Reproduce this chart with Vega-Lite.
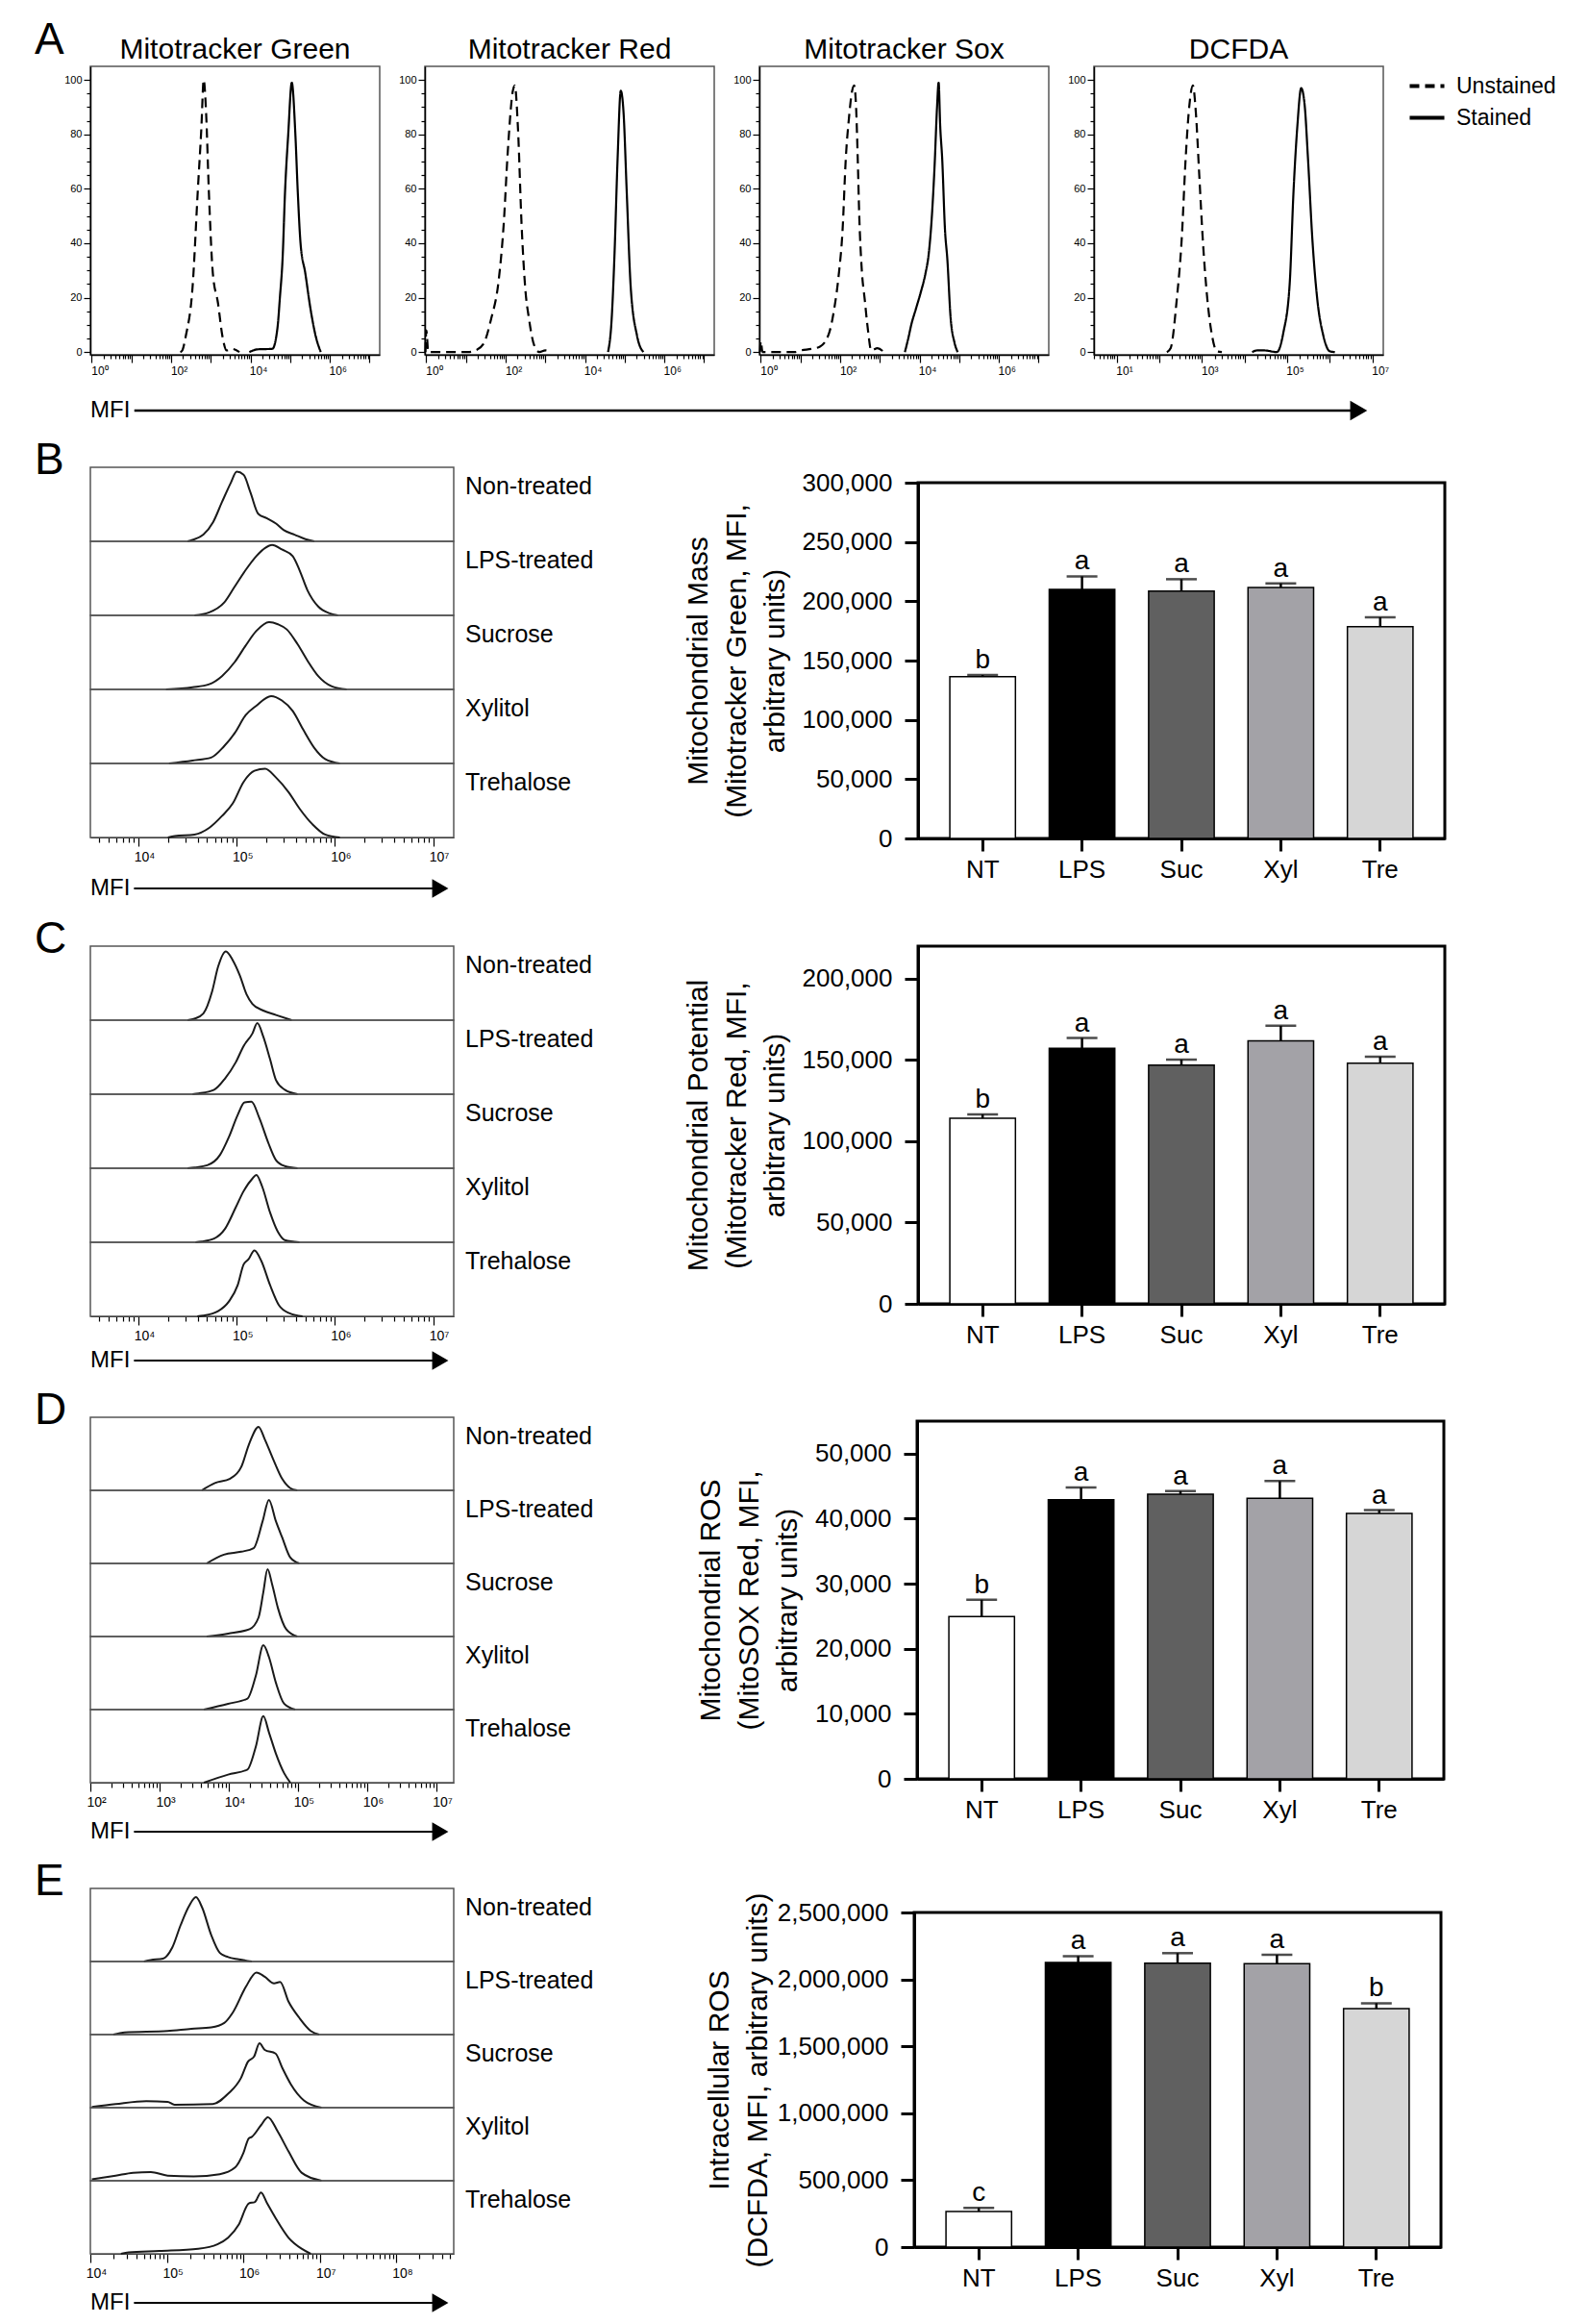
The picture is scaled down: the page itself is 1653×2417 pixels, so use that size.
{
"$schema": "https://vega.github.io/schema/vega-lite/v6.json",
"background": "white",
"padding": {"left": 36, "top": 19, "right": 10, "bottom": 4},
"config": {
  "font": "Liberation Sans",
  "view": {"stroke": "#555", "strokeWidth": 1.5},
  "axis": {"grid": false, "domainColor": "black", "tickColor": "black", "labelColor": "black", "titleColor": "black"},
  "axisY": {"labelFontSize": 26, "labelPadding": 13, "tickSize": 14, "tickWidth": 3, "domainWidth": 3, "titleFontSize": 30, "titleFontWeight": "normal", "titleLineHeight": 40, "titlePadding": 13}
},
"datasets": {
"histA": [
{"plot":"Mitotracker Green","stain":"Unstained","mfi":170,"count":0},
{"plot":"Mitotracker Green","stain":"Unstained","mfi":190.5,"count":0.6},
{"plot":"Mitotracker Green","stain":"Unstained","mfi":234.4,"count":6},
{"plot":"Mitotracker Green","stain":"Unstained","mfi":346.7,"count":24},
{"plot":"Mitotracker Green","stain":"Unstained","mfi":467.7,"count":59},
{"plot":"Mitotracker Green","stain":"Unstained","mfi":575.4,"count":82},
{"plot":"Mitotracker Green","stain":"Unstained","mfi":660.7,"count":100},
{"plot":"Mitotracker Green","stain":"Unstained","mfi":758.6,"count":88},
{"plot":"Mitotracker Green","stain":"Unstained","mfi":891.3,"count":59},
{"plot":"Mitotracker Green","stain":"Unstained","mfi":1122,"count":29},
{"plot":"Mitotracker Green","stain":"Unstained","mfi":1514,"count":18},
{"plot":"Mitotracker Green","stain":"Unstained","mfi":1950,"count":6},
{"plot":"Mitotracker Green","stain":"Unstained","mfi":2512,"count":0.6},
{"plot":"Mitotracker Green","stain":"Unstained","mfi":3388,"count":1.2},
{"plot":"Mitotracker Green","stain":"Unstained","mfi":5248,"count":0},
{"plot":"Mitotracker Green","stain":"Stained","mfi":9333,"count":0},
{"plot":"Mitotracker Green","stain":"Stained","mfi":14790,"count":1},
{"plot":"Mitotracker Green","stain":"Stained","mfi":35480,"count":1.2},
{"plot":"Mitotracker Green","stain":"Stained","mfi":47860,"count":9},
{"plot":"Mitotracker Green","stain":"Stained","mfi":54950,"count":20},
{"plot":"Mitotracker Green","stain":"Stained","mfi":64570,"count":35},
{"plot":"Mitotracker Green","stain":"Stained","mfi":74130,"count":59},
{"plot":"Mitotracker Green","stain":"Stained","mfi":89130,"count":80},
{"plot":"Mitotracker Green","stain":"Stained","mfi":109600,"count":99},
{"plot":"Mitotracker Green","stain":"Stained","mfi":134900,"count":80},
{"plot":"Mitotracker Green","stain":"Stained","mfi":154900,"count":59},
{"plot":"Mitotracker Green","stain":"Stained","mfi":182000,"count":40},
{"plot":"Mitotracker Green","stain":"Stained","mfi":239900,"count":29},
{"plot":"Mitotracker Green","stain":"Stained","mfi":323600,"count":16},
{"plot":"Mitotracker Green","stain":"Stained","mfi":436500,"count":6},
{"plot":"Mitotracker Green","stain":"Stained","mfi":588800,"count":0},
{"plot":"Mitotracker Red","stain":"Unstained","mfi":0.95,"count":0},
{"plot":"Mitotracker Red","stain":"Unstained","mfi":1,"count":8},
{"plot":"Mitotracker Red","stain":"Unstained","mfi":1.12,"count":0},
{"plot":"Mitotracker Red","stain":"Unstained","mfi":11.22,"count":0},
{"plot":"Mitotracker Red","stain":"Unstained","mfi":17.38,"count":0.6},
{"plot":"Mitotracker Red","stain":"Unstained","mfi":27.54,"count":3},
{"plot":"Mitotracker Red","stain":"Unstained","mfi":42.66,"count":12},
{"plot":"Mitotracker Red","stain":"Unstained","mfi":66.07,"count":26},
{"plot":"Mitotracker Red","stain":"Unstained","mfi":89.13,"count":47},
{"plot":"Mitotracker Red","stain":"Unstained","mfi":112.2,"count":73},
{"plot":"Mitotracker Red","stain":"Unstained","mfi":151.4,"count":96},
{"plot":"Mitotracker Red","stain":"Unstained","mfi":169.8,"count":98},
{"plot":"Mitotracker Red","stain":"Unstained","mfi":204.2,"count":82},
{"plot":"Mitotracker Red","stain":"Unstained","mfi":251.2,"count":47},
{"plot":"Mitotracker Red","stain":"Unstained","mfi":309,"count":24},
{"plot":"Mitotracker Red","stain":"Unstained","mfi":389,"count":12},
{"plot":"Mitotracker Red","stain":"Unstained","mfi":524.8,"count":2.4},
{"plot":"Mitotracker Red","stain":"Unstained","mfi":707.9,"count":0},
{"plot":"Mitotracker Red","stain":"Unstained","mfi":1000,"count":0.6},
{"plot":"Mitotracker Red","stain":"Unstained","mfi":1259,"count":0},
{"plot":"Mitotracker Red","stain":"Stained","mfi":38020,"count":0},
{"plot":"Mitotracker Red","stain":"Stained","mfi":46770,"count":12},
{"plot":"Mitotracker Red","stain":"Stained","mfi":54950,"count":35},
{"plot":"Mitotracker Red","stain":"Stained","mfi":66070,"count":71},
{"plot":"Mitotracker Red","stain":"Stained","mfi":79430,"count":96},
{"plot":"Mitotracker Red","stain":"Stained","mfi":93330,"count":88},
{"plot":"Mitotracker Red","stain":"Stained","mfi":112200,"count":59},
{"plot":"Mitotracker Red","stain":"Stained","mfi":141300,"count":24},
{"plot":"Mitotracker Red","stain":"Stained","mfi":204200,"count":6},
{"plot":"Mitotracker Red","stain":"Stained","mfi":295100,"count":0},
{"plot":"Mitotracker Sox","stain":"Unstained","mfi":0.95,"count":0},
{"plot":"Mitotracker Sox","stain":"Unstained","mfi":1,"count":4},
{"plot":"Mitotracker Sox","stain":"Unstained","mfi":1.1,"count":0},
{"plot":"Mitotracker Sox","stain":"Unstained","mfi":7.079,"count":0},
{"plot":"Mitotracker Sox","stain":"Unstained","mfi":10.23,"count":0.6},
{"plot":"Mitotracker Sox","stain":"Unstained","mfi":19.5,"count":1.2},
{"plot":"Mitotracker Sox","stain":"Unstained","mfi":30.9,"count":2},
{"plot":"Mitotracker Sox","stain":"Unstained","mfi":52.48,"count":7},
{"plot":"Mitotracker Sox","stain":"Unstained","mfi":70.79,"count":16},
{"plot":"Mitotracker Sox","stain":"Unstained","mfi":91.2,"count":28},
{"plot":"Mitotracker Sox","stain":"Unstained","mfi":114.8,"count":45},
{"plot":"Mitotracker Sox","stain":"Unstained","mfi":138,"count":71},
{"plot":"Mitotracker Sox","stain":"Unstained","mfi":166,"count":86},
{"plot":"Mitotracker Sox","stain":"Unstained","mfi":199.5,"count":96},
{"plot":"Mitotracker Sox","stain":"Unstained","mfi":223.9,"count":98},
{"plot":"Mitotracker Sox","stain":"Unstained","mfi":251.2,"count":90},
{"plot":"Mitotracker Sox","stain":"Unstained","mfi":275.4,"count":72},
{"plot":"Mitotracker Sox","stain":"Unstained","mfi":302,"count":50},
{"plot":"Mitotracker Sox","stain":"Unstained","mfi":346.7,"count":31},
{"plot":"Mitotracker Sox","stain":"Unstained","mfi":416.9,"count":19},
{"plot":"Mitotracker Sox","stain":"Unstained","mfi":501.2,"count":8},
{"plot":"Mitotracker Sox","stain":"Unstained","mfi":602.6,"count":0.6},
{"plot":"Mitotracker Sox","stain":"Unstained","mfi":871,"count":1.4},
{"plot":"Mitotracker Sox","stain":"Unstained","mfi":1259,"count":0},
{"plot":"Mitotracker Sox","stain":"Stained","mfi":4266,"count":0},
{"plot":"Mitotracker Sox","stain":"Stained","mfi":5129,"count":4.7},
{"plot":"Mitotracker Sox","stain":"Stained","mfi":6166,"count":10},
{"plot":"Mitotracker Sox","stain":"Stained","mfi":8128,"count":16},
{"plot":"Mitotracker Sox","stain":"Stained","mfi":10720,"count":22},
{"plot":"Mitotracker Sox","stain":"Stained","mfi":14130,"count":29},
{"plot":"Mitotracker Sox","stain":"Stained","mfi":16980,"count":36},
{"plot":"Mitotracker Sox","stain":"Stained","mfi":20420,"count":50},
{"plot":"Mitotracker Sox","stain":"Stained","mfi":23990,"count":69},
{"plot":"Mitotracker Sox","stain":"Stained","mfi":27540,"count":90},
{"plot":"Mitotracker Sox","stain":"Stained","mfi":30200,"count":99},
{"plot":"Mitotracker Sox","stain":"Stained","mfi":33110,"count":83},
{"plot":"Mitotracker Sox","stain":"Stained","mfi":37150,"count":71},
{"plot":"Mitotracker Sox","stain":"Stained","mfi":43650,"count":45},
{"plot":"Mitotracker Sox","stain":"Stained","mfi":50120,"count":34},
{"plot":"Mitotracker Sox","stain":"Stained","mfi":60260,"count":13},
{"plot":"Mitotracker Sox","stain":"Stained","mfi":75860,"count":3.5},
{"plot":"Mitotracker Sox","stain":"Stained","mfi":91200,"count":0},
{"plot":"DCFDA","stain":"Unstained","mfi":151.4,"count":0},
{"plot":"DCFDA","stain":"Unstained","mfi":186.2,"count":1.5},
{"plot":"DCFDA","stain":"Unstained","mfi":257,"count":19},
{"plot":"DCFDA","stain":"Unstained","mfi":338.8,"count":42},
{"plot":"DCFDA","stain":"Unstained","mfi":416.9,"count":71},
{"plot":"DCFDA","stain":"Unstained","mfi":512.9,"count":91},
{"plot":"DCFDA","stain":"Unstained","mfi":616.6,"count":98},
{"plot":"DCFDA","stain":"Unstained","mfi":724.4,"count":88},
{"plot":"DCFDA","stain":"Unstained","mfi":871,"count":65},
{"plot":"DCFDA","stain":"Unstained","mfi":1047,"count":42},
{"plot":"DCFDA","stain":"Unstained","mfi":1318,"count":21},
{"plot":"DCFDA","stain":"Unstained","mfi":1738,"count":6},
{"plot":"DCFDA","stain":"Unstained","mfi":2239,"count":0.3},
{"plot":"DCFDA","stain":"Unstained","mfi":2951,"count":0},
{"plot":"DCFDA","stain":"Stained","mfi":15140,"count":0},
{"plot":"DCFDA","stain":"Stained","mfi":19500,"count":0.6},
{"plot":"DCFDA","stain":"Stained","mfi":29510,"count":0.6},
{"plot":"DCFDA","stain":"Stained","mfi":57540,"count":0},
{"plot":"DCFDA","stain":"Stained","mfi":81280,"count":7},
{"plot":"DCFDA","stain":"Stained","mfi":114800,"count":25},
{"plot":"DCFDA","stain":"Stained","mfi":141300,"count":59},
{"plot":"DCFDA","stain":"Stained","mfi":173800,"count":83},
{"plot":"DCFDA","stain":"Stained","mfi":213800,"count":97},
{"plot":"DCFDA","stain":"Stained","mfi":257000,"count":91},
{"plot":"DCFDA","stain":"Stained","mfi":309000,"count":71},
{"plot":"DCFDA","stain":"Stained","mfi":389000,"count":42},
{"plot":"DCFDA","stain":"Stained","mfi":512900,"count":19},
{"plot":"DCFDA","stain":"Stained","mfi":707900,"count":6},
{"plot":"DCFDA","stain":"Stained","mfi":1000000,"count":0.3},
{"plot":"DCFDA","stain":"Stained","mfi":1318000,"count":0}
],
"histB": [
{"sample":"Non-treated","mfi":31620,"count":0},{"sample":"Non-treated","mfi":35480,"count":2},{"sample":"Non-treated","mfi":45710,"count":9},{"sample":"Non-treated","mfi":57540,"count":26},{"sample":"Non-treated","mfi":70790,"count":53},{"sample":"Non-treated","mfi":87100,"count":79},{"sample":"Non-treated","mfi":100000,"count":94},{"sample":"Non-treated","mfi":117500,"count":90},{"sample":"Non-treated","mfi":138000,"count":66},{"sample":"Non-treated","mfi":166000,"count":37},{"sample":"Non-treated","mfi":204200,"count":31},{"sample":"Non-treated","mfi":251200,"count":24},{"sample":"Non-treated","mfi":302000,"count":15},{"sample":"Non-treated","mfi":389000,"count":9},{"sample":"Non-treated","mfi":501200,"count":3},{"sample":"Non-treated","mfi":616600,"count":0},
{"sample":"LPS-treated","mfi":37150,"count":0},{"sample":"LPS-treated","mfi":52480,"count":4},{"sample":"LPS-treated","mfi":74130,"count":17},{"sample":"LPS-treated","mfi":95500,"count":39},{"sample":"LPS-treated","mfi":123000,"count":61},{"sample":"LPS-treated","mfi":158500,"count":80},{"sample":"LPS-treated","mfi":195000,"count":91},{"sample":"LPS-treated","mfi":229100,"count":95},{"sample":"LPS-treated","mfi":288400,"count":89},{"sample":"LPS-treated","mfi":371500,"count":80},{"sample":"LPS-treated","mfi":436500,"count":61},{"sample":"LPS-treated","mfi":524800,"count":34},{"sample":"LPS-treated","mfi":676100,"count":12},{"sample":"LPS-treated","mfi":871000,"count":3},{"sample":"LPS-treated","mfi":1072000,"count":0},
{"sample":"Sucrose","mfi":19050,"count":0},{"sample":"Sucrose","mfi":35480,"count":3},{"sample":"Sucrose","mfi":52480,"count":7},{"sample":"Sucrose","mfi":70790,"count":18},{"sample":"Sucrose","mfi":95500,"count":37},{"sample":"Sucrose","mfi":123000,"count":59},{"sample":"Sucrose","mfi":158500,"count":79},{"sample":"Sucrose","mfi":213800,"count":91},{"sample":"Sucrose","mfi":263000,"count":88},{"sample":"Sucrose","mfi":323600,"count":81},{"sample":"Sucrose","mfi":416900,"count":61},{"sample":"Sucrose","mfi":524800,"count":39},{"sample":"Sucrose","mfi":676100,"count":18},{"sample":"Sucrose","mfi":933300,"count":4},{"sample":"Sucrose","mfi":1318000,"count":0},
{"sample":"Xylitol","mfi":20420,"count":0},{"sample":"Xylitol","mfi":35480,"count":4},{"sample":"Xylitol","mfi":54950,"count":8},{"sample":"Xylitol","mfi":74130,"count":23},{"sample":"Xylitol","mfi":95500,"count":41},{"sample":"Xylitol","mfi":123000,"count":65},{"sample":"Xylitol","mfi":158500,"count":78},{"sample":"Xylitol","mfi":223900,"count":91},{"sample":"Xylitol","mfi":288400,"count":85},{"sample":"Xylitol","mfi":371500,"count":71},{"sample":"Xylitol","mfi":478600,"count":45},{"sample":"Xylitol","mfi":616600,"count":21},{"sample":"Xylitol","mfi":794300,"count":6},{"sample":"Xylitol","mfi":1122000,"count":0},
{"sample":"Trehalose","mfi":19950,"count":0},{"sample":"Trehalose","mfi":23440,"count":2},{"sample":"Trehalose","mfi":37150,"count":4},{"sample":"Trehalose","mfi":52480,"count":13},{"sample":"Trehalose","mfi":70790,"count":29},{"sample":"Trehalose","mfi":91200,"count":46},{"sample":"Trehalose","mfi":117500,"count":75},{"sample":"Trehalose","mfi":151400,"count":90},{"sample":"Trehalose","mfi":195000,"count":93},{"sample":"Trehalose","mfi":251200,"count":81},{"sample":"Trehalose","mfi":338800,"count":61},{"sample":"Trehalose","mfi":436500,"count":39},{"sample":"Trehalose","mfi":588800,"count":18},{"sample":"Trehalose","mfi":794300,"count":4},{"sample":"Trehalose","mfi":1122000,"count":0}
],
"histC": [
{"sample":"Non-treated","mfi":31620,"count":0},{"sample":"Non-treated","mfi":37150,"count":2},{"sample":"Non-treated","mfi":45710,"count":9},{"sample":"Non-treated","mfi":56230,"count":39},{"sample":"Non-treated","mfi":64570,"count":72},{"sample":"Non-treated","mfi":77620,"count":93},{"sample":"Non-treated","mfi":91200,"count":81},{"sample":"Non-treated","mfi":107200,"count":61},{"sample":"Non-treated","mfi":125900,"count":35},{"sample":"Non-treated","mfi":144500,"count":22},{"sample":"Non-treated","mfi":186200,"count":13},{"sample":"Non-treated","mfi":251200,"count":7},{"sample":"Non-treated","mfi":363100,"count":0},
{"sample":"LPS-treated","mfi":35480,"count":0},{"sample":"LPS-treated","mfi":40740,"count":1},{"sample":"LPS-treated","mfi":58880,"count":6},{"sample":"LPS-treated","mfi":75860,"count":21},{"sample":"LPS-treated","mfi":97720,"count":43},{"sample":"LPS-treated","mfi":117500,"count":65},{"sample":"LPS-treated","mfi":144500,"count":82},{"sample":"LPS-treated","mfi":162200,"count":96},{"sample":"LPS-treated","mfi":186200,"count":78},{"sample":"LPS-treated","mfi":218800,"count":47},{"sample":"LPS-treated","mfi":251200,"count":19},{"sample":"LPS-treated","mfi":309000,"count":6},{"sample":"LPS-treated","mfi":416900,"count":0},
{"sample":"Sucrose","mfi":31620,"count":0},{"sample":"Sucrose","mfi":37150,"count":1},{"sample":"Sucrose","mfi":50120,"count":4},{"sample":"Sucrose","mfi":67610,"count":18},{"sample":"Sucrose","mfi":83180,"count":42},{"sample":"Sucrose","mfi":102300,"count":72},{"sample":"Sucrose","mfi":120200,"count":89},{"sample":"Sucrose","mfi":141300,"count":90},{"sample":"Sucrose","mfi":169800,"count":68},{"sample":"Sucrose","mfi":208900,"count":35},{"sample":"Sucrose","mfi":251200,"count":11},{"sample":"Sucrose","mfi":309000,"count":3},{"sample":"Sucrose","mfi":416900,"count":0},
{"sample":"Xylitol","mfi":38020,"count":0},{"sample":"Xylitol","mfi":43650,"count":1},{"sample":"Xylitol","mfi":58880,"count":5},{"sample":"Xylitol","mfi":75860,"count":18},{"sample":"Xylitol","mfi":97720,"count":47},{"sample":"Xylitol","mfi":117500,"count":69},{"sample":"Xylitol","mfi":144500,"count":86},{"sample":"Xylitol","mfi":158500,"count":91},{"sample":"Xylitol","mfi":182000,"count":75},{"sample":"Xylitol","mfi":218800,"count":40},{"sample":"Xylitol","mfi":263000,"count":14},{"sample":"Xylitol","mfi":309000,"count":3},{"sample":"Xylitol","mfi":436500,"count":0},
{"sample":"Trehalose","mfi":39810,"count":0},{"sample":"Trehalose","mfi":45710,"count":1},{"sample":"Trehalose","mfi":64570,"count":7},{"sample":"Trehalose","mfi":83180,"count":20},{"sample":"Trehalose","mfi":102300,"count":42},{"sample":"Trehalose","mfi":117500,"count":70},{"sample":"Trehalose","mfi":131800,"count":77},{"sample":"Trehalose","mfi":151400,"count":89},{"sample":"Trehalose","mfi":177800,"count":75},{"sample":"Trehalose","mfi":218800,"count":42},{"sample":"Trehalose","mfi":269200,"count":15},{"sample":"Trehalose","mfi":346700,"count":4},{"sample":"Trehalose","mfi":467700,"count":0}
],
"histD": [
{"sample":"Non-treated","mfi":4074,"count":0},{"sample":"Non-treated","mfi":6310,"count":10},{"sample":"Non-treated","mfi":10470,"count":16},{"sample":"Non-treated","mfi":15140,"count":32},{"sample":"Non-treated","mfi":19950,"count":65},{"sample":"Non-treated","mfi":26920,"count":87},{"sample":"Non-treated","mfi":33110,"count":70},{"sample":"Non-treated","mfi":43650,"count":43},{"sample":"Non-treated","mfi":58880,"count":16},{"sample":"Non-treated","mfi":77620,"count":3},{"sample":"Non-treated","mfi":97720,"count":0},
{"sample":"LPS-treated","mfi":4786,"count":0},{"sample":"LPS-treated","mfi":8511,"count":12},{"sample":"LPS-treated","mfi":15140,"count":16},{"sample":"LPS-treated","mfi":22910,"count":21},{"sample":"LPS-treated","mfi":30900,"count":58},{"sample":"LPS-treated","mfi":38020,"count":87},{"sample":"LPS-treated","mfi":47860,"count":58},{"sample":"LPS-treated","mfi":58880,"count":36},{"sample":"LPS-treated","mfi":77620,"count":8},{"sample":"LPS-treated","mfi":104700,"count":0},
{"sample":"Sucrose","mfi":4786,"count":0},{"sample":"Sucrose","mfi":9772,"count":4},{"sample":"Sucrose","mfi":19950,"count":10},{"sample":"Sucrose","mfi":26920,"count":26},{"sample":"Sucrose","mfi":31620,"count":61},{"sample":"Sucrose","mfi":36310,"count":92},{"sample":"Sucrose","mfi":42660,"count":70},{"sample":"Sucrose","mfi":51290,"count":39},{"sample":"Sucrose","mfi":67610,"count":10},{"sample":"Sucrose","mfi":97720,"count":0},
{"sample":"Xylitol","mfi":4365,"count":0},{"sample":"Xylitol","mfi":9772,"count":8},{"sample":"Xylitol","mfi":18620,"count":15},{"sample":"Xylitol","mfi":24550,"count":46},{"sample":"Xylitol","mfi":31620,"count":88},{"sample":"Xylitol","mfi":38020,"count":72},{"sample":"Xylitol","mfi":47860,"count":37},{"sample":"Xylitol","mfi":63100,"count":8},{"sample":"Xylitol","mfi":91200,"count":0},
{"sample":"Trehalose","mfi":4365,"count":0},{"sample":"Trehalose","mfi":9772,"count":11},{"sample":"Trehalose","mfi":18620,"count":18},{"sample":"Trehalose","mfi":24550,"count":49},{"sample":"Trehalose","mfi":31620,"count":91},{"sample":"Trehalose","mfi":38020,"count":69},{"sample":"Trehalose","mfi":47860,"count":40},{"sample":"Trehalose","mfi":63100,"count":13},{"sample":"Trehalose","mfi":77620,"count":0}
],
"histE": [
{"sample":"Non-treated","mfi":50120,"count":0},{"sample":"Non-treated","mfi":61660,"count":2},{"sample":"Non-treated","mfi":89130,"count":4},{"sample":"Non-treated","mfi":117500,"count":19},{"sample":"Non-treated","mfi":151400,"count":50},{"sample":"Non-treated","mfi":195000,"count":76},{"sample":"Non-treated","mfi":239900,"count":88},{"sample":"Non-treated","mfi":288400,"count":74},{"sample":"Non-treated","mfi":380200,"count":36},{"sample":"Non-treated","mfi":489800,"count":12},{"sample":"Non-treated","mfi":631000,"count":6},{"sample":"Non-treated","mfi":871000,"count":3},{"sample":"Non-treated","mfi":1288000,"count":0},
{"sample":"LPS-treated","mfi":19950,"count":0},{"sample":"LPS-treated","mfi":28180,"count":3},{"sample":"LPS-treated","mfi":102300,"count":5},{"sample":"LPS-treated","mfi":208900,"count":8},{"sample":"LPS-treated","mfi":380200,"count":10},{"sample":"LPS-treated","mfi":562300,"count":16},{"sample":"LPS-treated","mfi":724400,"count":30},{"sample":"LPS-treated","mfi":1072000,"count":65},{"sample":"LPS-treated","mfi":1479000,"count":85},{"sample":"LPS-treated","mfi":1905000,"count":79},{"sample":"LPS-treated","mfi":2512000,"count":70},{"sample":"LPS-treated","mfi":3020000,"count":72},{"sample":"LPS-treated","mfi":3890000,"count":45},{"sample":"LPS-treated","mfi":5370000,"count":23},{"sample":"LPS-treated","mfi":7586000,"count":5},{"sample":"LPS-treated","mfi":9772000,"count":0},
{"sample":"Sucrose","mfi":10470,"count":1},{"sample":"Sucrose","mfi":21380,"count":5},{"sample":"Sucrose","mfi":53700,"count":9},{"sample":"Sucrose","mfi":102300,"count":8},{"sample":"Sucrose","mfi":125900,"count":4},{"sample":"Sucrose","mfi":398100,"count":5},{"sample":"Sucrose","mfi":631000,"count":19},{"sample":"Sucrose","mfi":933300,"count":41},{"sample":"Sucrose","mfi":1148000,"count":63},{"sample":"Sucrose","mfi":1380000,"count":70},{"sample":"Sucrose","mfi":1622000,"count":88},{"sample":"Sucrose","mfi":1905000,"count":79},{"sample":"Sucrose","mfi":2630000,"count":74},{"sample":"Sucrose","mfi":3236000,"count":54},{"sample":"Sucrose","mfi":4169000,"count":32},{"sample":"Sucrose","mfi":6166000,"count":10},{"sample":"Sucrose","mfi":10470000,"count":0},
{"sample":"Xylitol","mfi":10470,"count":2},{"sample":"Xylitol","mfi":21380,"count":7},{"sample":"Xylitol","mfi":36310,"count":11},{"sample":"Xylitol","mfi":61660,"count":12},{"sample":"Xylitol","mfi":102300,"count":7},{"sample":"Xylitol","mfi":223900,"count":6},{"sample":"Xylitol","mfi":489800,"count":9},{"sample":"Xylitol","mfi":776200,"count":18},{"sample":"Xylitol","mfi":1000000,"count":38},{"sample":"Xylitol","mfi":1175000,"count":58},{"sample":"Xylitol","mfi":1288000,"count":60},{"sample":"Xylitol","mfi":1698000,"count":76},{"sample":"Xylitol","mfi":2089000,"count":87},{"sample":"Xylitol","mfi":2818000,"count":67},{"sample":"Xylitol","mfi":3890000,"count":40},{"sample":"Xylitol","mfi":5754000,"count":11},{"sample":"Xylitol","mfi":10470000,"count":0},
{"sample":"Trehalose","mfi":25120,"count":0},{"sample":"Trehalose","mfi":31620,"count":2},{"sample":"Trehalose","mfi":79430,"count":4},{"sample":"Trehalose","mfi":257000,"count":7},{"sample":"Trehalose","mfi":457100,"count":13},{"sample":"Trehalose","mfi":631000,"count":22},{"sample":"Trehalose","mfi":871000,"count":40},{"sample":"Trehalose","mfi":1175000,"count":69},{"sample":"Trehalose","mfi":1413000,"count":71},{"sample":"Trehalose","mfi":1698000,"count":84},{"sample":"Trehalose","mfi":2042000,"count":69},{"sample":"Trehalose","mfi":2630000,"count":49},{"sample":"Trehalose","mfi":3890000,"count":22},{"sample":"Trehalose","mfi":5754000,"count":7},{"sample":"Trehalose","mfi":7586000,"count":0}
],
"bars": [
{"panel":"B","treatment":"NT","mean":136500,"upper":137800,"letter":"b"},
{"panel":"B","treatment":"LPS","mean":210000,"upper":221000,"letter":"a"},
{"panel":"B","treatment":"Suc","mean":208600,"upper":218600,"letter":"a"},
{"panel":"B","treatment":"Xyl","mean":211600,"upper":215100,"letter":"a"},
{"panel":"B","treatment":"Tre","mean":178600,"upper":186500,"letter":"a"},
{"panel":"C","treatment":"NT","mean":114100,"upper":116500,"letter":"b"},
{"panel":"C","treatment":"LPS","mean":157100,"upper":163500,"letter":"a"},
{"panel":"C","treatment":"Suc","mean":146800,"upper":150200,"letter":"a"},
{"panel":"C","treatment":"Xyl","mean":161700,"upper":171000,"letter":"a"},
{"panel":"C","treatment":"Tre","mean":148000,"upper":152000,"letter":"a"},
{"panel":"D","treatment":"NT","mean":24950,"upper":27530,"letter":"b"},
{"panel":"D","treatment":"LPS","mean":42900,"upper":44790,"letter":"a"},
{"panel":"D","treatment":"Suc","mean":43750,"upper":44250,"letter":"a"},
{"panel":"D","treatment":"Xyl","mean":43150,"upper":45780,"letter":"a"},
{"panel":"D","treatment":"Tre","mean":40820,"upper":41320,"letter":"a"},
{"panel":"E","treatment":"NT","mean":266000,"upper":292000,"letter":"c"},
{"panel":"E","treatment":"LPS","mean":2126000,"upper":2174000,"letter":"a"},
{"panel":"E","treatment":"Suc","mean":2121000,"upper":2196000,"letter":"a"},
{"panel":"E","treatment":"Xyl","mean":2117000,"upper":2184000,"letter":"a"},
{"panel":"E","treatment":"Tre","mean":1781000,"upper":1822000,"letter":"b"}
]
},
"vconcat": [
{
 "title": {"text": "A", "anchor": "start", "frame": "group", "fontSize": 46, "fontWeight": "normal", "dx": -58, "dy": 30, "offset": 0, "color": "black"},
 "hconcat": [
  {"width": 301, "height": 300, "data": {"name": "histA"}, "transform": [{"filter": "datum.plot == 'Mitotracker Green'"}],
   "title": {"text": "Mitotracker Green", "fontSize": 30, "fontWeight": "normal", "offset": 2, "color": "black"},
   "mark": {"type": "line", "interpolate": "monotone", "strokeWidth": 2.2, "color": "black"},
   "encoding": {
    "x": {"field": "mfi", "type": "quantitative", "scale": {"type": "log", "domain": [0.92, 18000000], "nice": false},
     "axis": {"title": null, "values": [1,2,3,4,5,6,7,8,9,10,20,30,40,50,60,70,80,90,100,200,300,400,500,600,700,800,900,1000,2000,3000,4000,5000,6000,7000,8000,9000,10000,20000,30000,40000,50000,60000,70000,80000,90000,100000,200000,300000,400000,500000,600000,700000,800000,900000,1000000,2000000,3000000,4000000,5000000,6000000,7000000,8000000,9000000,10000000],
      "labelExpr": "abs(log(datum.value)/LN10 - round(log(datum.value)/LN10)) < 0.01 && round(log(datum.value)/LN10) % 2 == 0 ? '10' + ['⁰','¹','²','³','⁴','⁵','⁶','⁷','⁸'][round(log(datum.value)/LN10)] : ''",
      "tickSize": {"condition": {"test": "abs(log(datum.value)/LN10 - round(log(datum.value)/LN10)) < 0.01", "value": 8}, "value": 4},
      "labelFontSize": 12, "labelOffset": 8, "labelPadding": 3, "labelOverlap": false, "labelFlush": false, "labelBound": false, "tickWidth": 1.2, "domainWidth": 1.5}},
    "y": {"field": "count", "type": "quantitative", "scale": {"domain": [-1, 105], "nice": false, "zero": false},
     "axis": {"title": null, "values": [0,5,10,15,20,25,30,35,40,45,50,55,60,65,70,75,80,85,90,95,100], "labelExpr": "datum.value % 20 == 0 ? datum.label : ''",
      "tickSize": {"condition": {"test": "datum.value % 20 == 0", "value": 7}, "value": 4}, "labelFontSize": 11, "labelPadding": 2, "tickWidth": 1.2, "domainWidth": 1.5, "labelOverlap": false}},
    "strokeDash": {"field": "stain", "type": "nominal", "scale": {"domain": ["Unstained", "Stained"], "range": [[10, 6], [1, 0]]},
     "legend": {"title": null, "symbolType": "stroke", "symbolSize": 1300, "symbolStrokeWidth": 4, "symbolStrokeColor": "black", "labelFontSize": 23, "labelOffset": 10, "rowPadding": 0, "labelColor": "black", "offset": 18}}
   }},
  {"width": 301, "height": 300, "data": {"name": "histA"}, "transform": [{"filter": "datum.plot == 'Mitotracker Red'"}],
   "title": {"text": "Mitotracker Red", "fontSize": 30, "fontWeight": "normal", "offset": 2, "color": "black"},
   "mark": {"type": "line", "interpolate": "monotone", "strokeWidth": 2.2, "color": "black"},
   "encoding": {
    "x": {"field": "mfi", "type": "quantitative", "scale": {"type": "log", "domain": [0.92, 18000000], "nice": false},
     "axis": {"title": null, "values": [1,2,3,4,5,6,7,8,9,10,20,30,40,50,60,70,80,90,100,200,300,400,500,600,700,800,900,1000,2000,3000,4000,5000,6000,7000,8000,9000,10000,20000,30000,40000,50000,60000,70000,80000,90000,100000,200000,300000,400000,500000,600000,700000,800000,900000,1000000,2000000,3000000,4000000,5000000,6000000,7000000,8000000,9000000,10000000],
      "labelExpr": "abs(log(datum.value)/LN10 - round(log(datum.value)/LN10)) < 0.01 && round(log(datum.value)/LN10) % 2 == 0 ? '10' + ['⁰','¹','²','³','⁴','⁵','⁶','⁷','⁸'][round(log(datum.value)/LN10)] : ''",
      "tickSize": {"condition": {"test": "abs(log(datum.value)/LN10 - round(log(datum.value)/LN10)) < 0.01", "value": 8}, "value": 4},
      "labelFontSize": 12, "labelOffset": 8, "labelPadding": 3, "labelOverlap": false, "labelFlush": false, "labelBound": false, "tickWidth": 1.2, "domainWidth": 1.5}},
    "y": {"field": "count", "type": "quantitative", "scale": {"domain": [-1, 105], "nice": false, "zero": false},
     "axis": {"title": null, "values": [0,5,10,15,20,25,30,35,40,45,50,55,60,65,70,75,80,85,90,95,100], "labelExpr": "datum.value % 20 == 0 ? datum.label : ''",
      "tickSize": {"condition": {"test": "datum.value % 20 == 0", "value": 7}, "value": 4}, "labelFontSize": 11, "labelPadding": 2, "tickWidth": 1.2, "domainWidth": 1.5, "labelOverlap": false}},
    "strokeDash": {"field": "stain", "type": "nominal", "scale": {"domain": ["Unstained", "Stained"], "range": [[10, 6], [1, 0]]}}
   }},
  {"width": 301, "height": 300, "data": {"name": "histA"}, "transform": [{"filter": "datum.plot == 'Mitotracker Sox'"}],
   "title": {"text": "Mitotracker Sox", "fontSize": 30, "fontWeight": "normal", "offset": 2, "color": "black"},
   "mark": {"type": "line", "interpolate": "monotone", "strokeWidth": 2.2, "color": "black"},
   "encoding": {
    "x": {"field": "mfi", "type": "quantitative", "scale": {"type": "log", "domain": [0.92, 18000000], "nice": false},
     "axis": {"title": null, "values": [1,2,3,4,5,6,7,8,9,10,20,30,40,50,60,70,80,90,100,200,300,400,500,600,700,800,900,1000,2000,3000,4000,5000,6000,7000,8000,9000,10000,20000,30000,40000,50000,60000,70000,80000,90000,100000,200000,300000,400000,500000,600000,700000,800000,900000,1000000,2000000,3000000,4000000,5000000,6000000,7000000,8000000,9000000,10000000],
      "labelExpr": "abs(log(datum.value)/LN10 - round(log(datum.value)/LN10)) < 0.01 && round(log(datum.value)/LN10) % 2 == 0 ? '10' + ['⁰','¹','²','³','⁴','⁵','⁶','⁷','⁸'][round(log(datum.value)/LN10)] : ''",
      "tickSize": {"condition": {"test": "abs(log(datum.value)/LN10 - round(log(datum.value)/LN10)) < 0.01", "value": 8}, "value": 4},
      "labelFontSize": 12, "labelOffset": 8, "labelPadding": 3, "labelOverlap": false, "labelFlush": false, "labelBound": false, "tickWidth": 1.2, "domainWidth": 1.5}},
    "y": {"field": "count", "type": "quantitative", "scale": {"domain": [-1, 105], "nice": false, "zero": false},
     "axis": {"title": null, "values": [0,5,10,15,20,25,30,35,40,45,50,55,60,65,70,75,80,85,90,95,100], "labelExpr": "datum.value % 20 == 0 ? datum.label : ''",
      "tickSize": {"condition": {"test": "datum.value % 20 == 0", "value": 7}, "value": 4}, "labelFontSize": 11, "labelPadding": 2, "tickWidth": 1.2, "domainWidth": 1.5, "labelOverlap": false}},
    "strokeDash": {"field": "stain", "type": "nominal", "scale": {"domain": ["Unstained", "Stained"], "range": [[10, 6], [1, 0]]}}
   }},
  {"width": 301, "height": 300, "data": {"name": "histA"}, "transform": [{"filter": "datum.plot == 'DCFDA'"}],
   "title": {"text": "DCFDA", "fontSize": 30, "fontWeight": "normal", "offset": 2, "color": "black"},
   "mark": {"type": "line", "interpolate": "monotone", "strokeWidth": 2.2, "color": "black"},
   "encoding": {
    "x": {"field": "mfi", "type": "quantitative", "scale": {"type": "log", "domain": [2.95, 18000000], "nice": false},
     "axis": {"title": null, "values": [3,4,5,6,7,8,9,10,20,30,40,50,60,70,80,90,100,200,300,400,500,600,700,800,900,1000,2000,3000,4000,5000,6000,7000,8000,9000,10000,20000,30000,40000,50000,60000,70000,80000,90000,100000,200000,300000,400000,500000,600000,700000,800000,900000,1000000,2000000,3000000,4000000,5000000,6000000,7000000,8000000,9000000,10000000],
      "labelExpr": "abs(log(datum.value)/LN10 - round(log(datum.value)/LN10)) < 0.01 && round(log(datum.value)/LN10) % 2 == 1 ? '10' + ['⁰','¹','²','³','⁴','⁵','⁶','⁷','⁸'][round(log(datum.value)/LN10)] : ''",
      "tickSize": {"condition": {"test": "abs(log(datum.value)/LN10 - round(log(datum.value)/LN10)) < 0.01", "value": 8}, "value": 4},
      "labelFontSize": 12, "labelOffset": 8, "labelPadding": 3, "labelOverlap": false, "labelFlush": false, "labelBound": false, "tickWidth": 1.2, "domainWidth": 1.5}},
    "y": {"field": "count", "type": "quantitative", "scale": {"domain": [-1, 105], "nice": false, "zero": false},
     "axis": {"title": null, "values": [0,5,10,15,20,25,30,35,40,45,50,55,60,65,70,75,80,85,90,95,100], "labelExpr": "datum.value % 20 == 0 ? datum.label : ''",
      "tickSize": {"condition": {"test": "datum.value % 20 == 0", "value": 7}, "value": 4}, "labelFontSize": 11, "labelPadding": 2, "tickWidth": 1.2, "domainWidth": 1.5, "labelOverlap": false}},
    "strokeDash": {"field": "stain", "type": "nominal", "scale": {"domain": ["Unstained", "Stained"], "range": [[10, 6], [1, 0]]}}
   }}
 ],
 "spacing": 47, "bounds": "flush"
},
{
 "width": 1345, "height": 34, "view": {"stroke": null}, "data": {"values": [{}]},
 "layer": [
  {"mark": {"type": "rule", "strokeWidth": 2.5, "color": "black"},
   "encoding": {"x": {"datum": 0.034, "type": "quantitative", "scale": {"domain": [0, 1]}, "axis": null}, "x2": {"datum": 0.975}, "y": {"datum": 0.41, "type": "quantitative", "scale": {"domain": [0, 1]}, "axis": null}}},
  {"mark": {"type": "point", "shape": "triangle-right", "filled": true, "size": 420, "color": "black", "opacity": 1},
   "encoding": {"x": {"datum": 0.981, "type": "quantitative"}, "y": {"datum": 0.41, "type": "quantitative"}}},
  {"mark": {"type": "text", "text": "MFI", "align": "left", "baseline": "middle", "fontSize": 24, "color": "black"},
   "encoding": {"x": {"datum": 0, "type": "quantitative"}, "y": {"datum": 0.41, "type": "quantitative"}}}
 ]
},
{
 "title": {"text": "B", "anchor": "start", "frame": "group", "fontSize": 46, "fontWeight": "normal", "dx": -58, "dy": 18, "offset": 0, "color": "black"},
 "hconcat": [
  {"vconcat": [
    {"data": {"name": "histB"},
     "facet": {"row": {"field": "sample", "type": "nominal", "sort": ["Non-treated","LPS-treated","Sucrose","Xylitol","Trehalose"], "header": null}},
     "spacing": {"row": 0}, "bounds": "flush",
     "spec": {"width": 378, "height": 77,
      "layer": [
       {"mark": {"type": "line", "interpolate": "monotone", "color": "#1a1a1a", "strokeWidth": 2},
        "encoding": {
         "x": {"field": "mfi", "type": "quantitative", "scale": {"type": "log", "domain": [3236, 16200000], "nice": false},
          "axis": {"title": null, "values": [4000,5000,6000,7000,8000,9000,10000,20000,30000,40000,50000,60000,70000,80000,90000,100000,200000,300000,400000,500000,600000,700000,800000,900000,1000000,2000000,3000000,4000000,5000000,6000000,7000000,8000000,9000000,10000000],
           "labelExpr": "abs(log(datum.value)/LN10 - round(log(datum.value)/LN10)) < 0.01 ? '10' + ['⁰','¹','²','³','⁴','⁵','⁶','⁷','⁸'][round(log(datum.value)/LN10)] : ''",
           "tickSize": {"condition": {"test": "abs(log(datum.value)/LN10 - round(log(datum.value)/LN10)) < 0.01", "value": 9}, "value": 5},
           "labelFontSize": 14, "labelOffset": 6, "labelPadding": 4, "labelOverlap": false, "labelFlush": false, "labelBound": false, "tickWidth": 1.2, "domainWidth": 1.2}},
         "y": {"field": "count", "type": "quantitative", "scale": {"domain": [0, 100], "nice": false}, "axis": null}}},
       {"transform": [{"aggregate": [{"op": "count", "as": "n"}], "groupby": ["sample"]}],
        "mark": {"type": "text", "align": "left", "baseline": "top", "dx": 12, "dy": 8, "fontSize": 25, "color": "black"},
        "encoding": {"x": {"datum": 16200000, "type": "quantitative"}, "y": {"datum": 100, "type": "quantitative"}, "text": {"field": "sample"}}}
      ]}},
    {"width": 378, "height": 28, "view": {"stroke": null}, "data": {"values": [{}]},
     "layer": [
      {"mark": {"type": "rule", "strokeWidth": 2, "color": "black"},
       "encoding": {"x": {"datum": 0.12, "type": "quantitative", "scale": {"domain": [0, 1]}, "axis": null}, "x2": {"datum": 0.95}, "y": {"datum": 0.5, "type": "quantitative", "scale": {"domain": [0, 1]}, "axis": null}}},
      {"mark": {"type": "point", "shape": "triangle-right", "filled": true, "size": 380, "color": "black", "opacity": 1},
       "encoding": {"x": {"datum": 0.963, "type": "quantitative"}, "y": {"datum": 0.5, "type": "quantitative"}}},
      {"mark": {"type": "text", "text": "MFI", "align": "left", "baseline": "middle", "fontSize": 24, "color": "black"},
       "encoding": {"x": {"datum": 0, "type": "quantitative"}, "y": {"datum": 0.5, "type": "quantitative"}}}
     ]}
   ], "spacing": 12},
  {"vconcat": [
    {"width": 10, "height": 1, "data": {"values": []}, "mark": "point", "view": {"stroke": null}},
    {"width": 548, "height": 370, "data": {"name": "bars"}, "transform": [{"filter": "datum.panel == 'B'"}],
     "view": {"stroke": "black", "strokeWidth": 3},
     "encoding": {"x": {"field": "treatment", "type": "nominal", "sort": ["NT","LPS","Suc","Xyl","Tre"], "scale": {"paddingInner": 0.34, "paddingOuter": 0.32},
       "axis": {"title": null, "labelAngle": 0, "labelFontSize": 26, "labelPadding": 6, "tickSize": 13, "tickWidth": 3, "domainWidth": 3}}},
     "layer": [
      {"mark": {"type": "bar", "stroke": "black", "strokeWidth": 1.5},
       "encoding": {"y": {"field": "mean", "type": "quantitative", "scale": {"domain": [0, 300000], "nice": false},
         "axis": {"title": ["Mitochondrial Mass", "(Mitotracker Green, MFI,", "arbitrary units)"], "values": [0,50000,100000,150000,200000,250000,300000], "format": ",", "labelExpr": "format(datum.value, ',')"}},
        "fill": {"field": "treatment", "type": "nominal", "scale": {"domain": ["NT","LPS","Suc","Xyl","Tre"], "range": ["#ffffff","#000000","#606060","#a3a2a7","#d6d6d6"]}, "legend": null}}},
      {"mark": {"type": "rule", "strokeWidth": 2.5, "color": "black"}, "encoding": {"y": {"field": "mean", "type": "quantitative", "axis": {"title": ["Mitochondrial Mass", "(Mitotracker Green, MFI,", "arbitrary units)"], "values": [0,50000,100000,150000,200000,250000,300000], "format": ",", "labelExpr": "format(datum.value, ',')"}}, "y2": {"field": "upper"}}},
      {"mark": {"type": "tick", "size": 32, "thickness": 2.5, "color": "black"}, "encoding": {"y": {"field": "upper", "type": "quantitative", "axis": {"title": ["Mitochondrial Mass", "(Mitotracker Green, MFI,", "arbitrary units)"], "values": [0,50000,100000,150000,200000,250000,300000], "format": ",", "labelExpr": "format(datum.value, ',')"}}}},
      {"mark": {"type": "text", "dy": -7, "baseline": "alphabetic", "fontSize": 28, "color": "black"}, "encoding": {"y": {"field": "upper", "type": "quantitative", "axis": {"title": ["Mitochondrial Mass", "(Mitotracker Green, MFI,", "arbitrary units)"], "values": [0,50000,100000,150000,200000,250000,300000], "format": ",", "labelExpr": "format(datum.value, ',')"}}, "text": {"field": "letter"}}}
     ]}
   ], "spacing": 0}
 ],
 "spacing": 90
},
{
 "title": {"text": "C", "anchor": "start", "frame": "group", "fontSize": 46, "fontWeight": "normal", "dx": -58, "dy": 18, "offset": 0, "color": "black"},
 "hconcat": [
  {"vconcat": [
    {"data": {"name": "histC"},
     "facet": {"row": {"field": "sample", "type": "nominal", "sort": ["Non-treated","LPS-treated","Sucrose","Xylitol","Trehalose"], "header": null}},
     "spacing": {"row": 0}, "bounds": "flush",
     "spec": {"width": 378, "height": 77,
      "layer": [
       {"mark": {"type": "line", "interpolate": "monotone", "color": "#1a1a1a", "strokeWidth": 2},
        "encoding": {
         "x": {"field": "mfi", "type": "quantitative", "scale": {"type": "log", "domain": [3236, 16200000], "nice": false},
          "axis": {"title": null, "values": [4000,5000,6000,7000,8000,9000,10000,20000,30000,40000,50000,60000,70000,80000,90000,100000,200000,300000,400000,500000,600000,700000,800000,900000,1000000,2000000,3000000,4000000,5000000,6000000,7000000,8000000,9000000,10000000],
           "labelExpr": "abs(log(datum.value)/LN10 - round(log(datum.value)/LN10)) < 0.01 ? '10' + ['⁰','¹','²','³','⁴','⁵','⁶','⁷','⁸'][round(log(datum.value)/LN10)] : ''",
           "tickSize": {"condition": {"test": "abs(log(datum.value)/LN10 - round(log(datum.value)/LN10)) < 0.01", "value": 9}, "value": 5},
           "labelFontSize": 14, "labelOffset": 6, "labelPadding": 4, "labelOverlap": false, "labelFlush": false, "labelBound": false, "tickWidth": 1.2, "domainWidth": 1.2}},
         "y": {"field": "count", "type": "quantitative", "scale": {"domain": [0, 100], "nice": false}, "axis": null}}},
       {"transform": [{"aggregate": [{"op": "count", "as": "n"}], "groupby": ["sample"]}],
        "mark": {"type": "text", "align": "left", "baseline": "top", "dx": 12, "dy": 8, "fontSize": 25, "color": "black"},
        "encoding": {"x": {"datum": 16200000, "type": "quantitative"}, "y": {"datum": 100, "type": "quantitative"}, "text": {"field": "sample"}}}
      ]}},
    {"width": 378, "height": 28, "view": {"stroke": null}, "data": {"values": [{}]},
     "layer": [
      {"mark": {"type": "rule", "strokeWidth": 2, "color": "black"},
       "encoding": {"x": {"datum": 0.12, "type": "quantitative", "scale": {"domain": [0, 1]}, "axis": null}, "x2": {"datum": 0.95}, "y": {"datum": 0.5, "type": "quantitative", "scale": {"domain": [0, 1]}, "axis": null}}},
      {"mark": {"type": "point", "shape": "triangle-right", "filled": true, "size": 380, "color": "black", "opacity": 1},
       "encoding": {"x": {"datum": 0.963, "type": "quantitative"}, "y": {"datum": 0.5, "type": "quantitative"}}},
      {"mark": {"type": "text", "text": "MFI", "align": "left", "baseline": "middle", "fontSize": 24, "color": "black"},
       "encoding": {"x": {"datum": 0, "type": "quantitative"}, "y": {"datum": 0.5, "type": "quantitative"}}}
     ]}
   ], "spacing": 5},
  {"width": 548, "height": 372, "data": {"name": "bars"}, "transform": [{"filter": "datum.panel == 'C'"}],
   "view": {"stroke": "black", "strokeWidth": 3},
   "encoding": {"x": {"field": "treatment", "type": "nominal", "sort": ["NT","LPS","Suc","Xyl","Tre"], "scale": {"paddingInner": 0.34, "paddingOuter": 0.32},
     "axis": {"title": null, "labelAngle": 0, "labelFontSize": 26, "labelPadding": 6, "tickSize": 13, "tickWidth": 3, "domainWidth": 3}}},
   "layer": [
    {"mark": {"type": "bar", "stroke": "black", "strokeWidth": 1.5},
     "encoding": {"y": {"field": "mean", "type": "quantitative", "scale": {"domain": [0, 220000], "nice": false},
       "axis": {"title": ["Mitochondrial Potential", "(Mitotracker Red, MFI,", "arbitrary units)"], "values": [0,50000,100000,150000,200000], "format": ",", "labelExpr": "format(datum.value, ',')"}},
      "fill": {"field": "treatment", "type": "nominal", "scale": {"domain": ["NT","LPS","Suc","Xyl","Tre"], "range": ["#ffffff","#000000","#606060","#a3a2a7","#d6d6d6"]}, "legend": null}}},
    {"mark": {"type": "rule", "strokeWidth": 2.5, "color": "black"}, "encoding": {"y": {"field": "mean", "type": "quantitative", "axis": {"title": ["Mitochondrial Potential", "(Mitotracker Red, MFI,", "arbitrary units)"], "values": [0,50000,100000,150000,200000], "format": ",", "labelExpr": "format(datum.value, ',')"}}, "y2": {"field": "upper"}}},
    {"mark": {"type": "tick", "size": 32, "thickness": 2.5, "color": "black"}, "encoding": {"y": {"field": "upper", "type": "quantitative", "axis": {"title": ["Mitochondrial Potential", "(Mitotracker Red, MFI,", "arbitrary units)"], "values": [0,50000,100000,150000,200000], "format": ",", "labelExpr": "format(datum.value, ',')"}}}},
    {"mark": {"type": "text", "dy": -7, "baseline": "alphabetic", "fontSize": 28, "color": "black"}, "encoding": {"y": {"field": "upper", "type": "quantitative", "axis": {"title": ["Mitochondrial Potential", "(Mitotracker Red, MFI,", "arbitrary units)"], "values": [0,50000,100000,150000,200000], "format": ",", "labelExpr": "format(datum.value, ',')"}}, "text": {"field": "letter"}}}
   ]}
 ],
 "spacing": 90
},
{
 "title": {"text": "D", "anchor": "start", "frame": "group", "fontSize": 46, "fontWeight": "normal", "dx": -58, "dy": 18, "offset": 0, "color": "black"},
 "hconcat": [
  {"vconcat": [
    {"data": {"name": "histD"},
     "facet": {"row": {"field": "sample", "type": "nominal", "sort": ["Non-treated","LPS-treated","Sucrose","Xylitol","Trehalose"], "header": null}},
     "spacing": {"row": 0}, "bounds": "flush",
     "spec": {"width": 378, "height": 76,
      "layer": [
       {"mark": {"type": "line", "interpolate": "monotone", "color": "#1a1a1a", "strokeWidth": 2},
        "encoding": {
         "x": {"field": "mfi", "type": "quantitative", "scale": {"type": "log", "domain": [100, 17800000], "nice": false},
          "axis": {"title": null, "values": [100,200,300,400,500,600,700,800,900,1000,2000,3000,4000,5000,6000,7000,8000,9000,10000,20000,30000,40000,50000,60000,70000,80000,90000,100000,200000,300000,400000,500000,600000,700000,800000,900000,1000000,2000000,3000000,4000000,5000000,6000000,7000000,8000000,9000000,10000000],
           "labelExpr": "abs(log(datum.value)/LN10 - round(log(datum.value)/LN10)) < 0.01 ? '10' + ['⁰','¹','²','³','⁴','⁵','⁶','⁷','⁸'][round(log(datum.value)/LN10)] : ''",
           "tickSize": {"condition": {"test": "abs(log(datum.value)/LN10 - round(log(datum.value)/LN10)) < 0.01", "value": 9}, "value": 5},
           "labelFontSize": 14, "labelOffset": 6, "labelPadding": 4, "labelOverlap": false, "labelFlush": false, "labelBound": false, "tickWidth": 1.2, "domainWidth": 1.2}},
         "y": {"field": "count", "type": "quantitative", "scale": {"domain": [0, 100], "nice": false}, "axis": null}}},
       {"transform": [{"aggregate": [{"op": "count", "as": "n"}], "groupby": ["sample"]}],
        "mark": {"type": "text", "align": "left", "baseline": "top", "dx": 12, "dy": 8, "fontSize": 25, "color": "black"},
        "encoding": {"x": {"datum": 17800000, "type": "quantitative"}, "y": {"datum": 100, "type": "quantitative"}, "text": {"field": "sample"}}}
      ]}},
    {"width": 378, "height": 28, "view": {"stroke": null}, "data": {"values": [{}]},
     "layer": [
      {"mark": {"type": "rule", "strokeWidth": 2, "color": "black"},
       "encoding": {"x": {"datum": 0.12, "type": "quantitative", "scale": {"domain": [0, 1]}, "axis": null}, "x2": {"datum": 0.95}, "y": {"datum": 0.5, "type": "quantitative", "scale": {"domain": [0, 1]}, "axis": null}}},
      {"mark": {"type": "point", "shape": "triangle-right", "filled": true, "size": 380, "color": "black", "opacity": 1},
       "encoding": {"x": {"datum": 0.963, "type": "quantitative"}, "y": {"datum": 0.5, "type": "quantitative"}}},
      {"mark": {"type": "text", "text": "MFI", "align": "left", "baseline": "middle", "fontSize": 24, "color": "black"},
       "encoding": {"x": {"datum": 0, "type": "quantitative"}, "y": {"datum": 0.5, "type": "quantitative"}}}
     ]}
   ], "spacing": 10},
  {"vconcat": [
    {"width": 10, "height": 1.5, "data": {"values": []}, "mark": "point", "view": {"stroke": null}},
    {"width": 548, "height": 372, "data": {"name": "bars"}, "transform": [{"filter": "datum.panel == 'D'"}],
     "view": {"stroke": "black", "strokeWidth": 3},
     "encoding": {"x": {"field": "treatment", "type": "nominal", "sort": ["NT","LPS","Suc","Xyl","Tre"], "scale": {"paddingInner": 0.34, "paddingOuter": 0.32},
       "axis": {"title": null, "labelAngle": 0, "labelFontSize": 26, "labelPadding": 6, "tickSize": 13, "tickWidth": 3, "domainWidth": 3}}},
     "layer": [
      {"mark": {"type": "bar", "stroke": "black", "strokeWidth": 1.5},
       "encoding": {"y": {"field": "mean", "type": "quantitative", "scale": {"domain": [0, 55000], "nice": false},
         "axis": {"title": ["Mitochondrial ROS", "(MitoSOX Red, MFI,", "arbitrary units)"], "values": [0,10000,20000,30000,40000,50000], "format": ",", "labelExpr": "format(datum.value, ',')"}},
        "fill": {"field": "treatment", "type": "nominal", "scale": {"domain": ["NT","LPS","Suc","Xyl","Tre"], "range": ["#ffffff","#000000","#606060","#a3a2a7","#d6d6d6"]}, "legend": null}}},
      {"mark": {"type": "rule", "strokeWidth": 2.5, "color": "black"}, "encoding": {"y": {"field": "mean", "type": "quantitative", "axis": {"title": ["Mitochondrial ROS", "(MitoSOX Red, MFI,", "arbitrary units)"], "values": [0,10000,20000,30000,40000,50000], "format": ",", "labelExpr": "format(datum.value, ',')"}}, "y2": {"field": "upper"}}},
      {"mark": {"type": "tick", "size": 32, "thickness": 2.5, "color": "black"}, "encoding": {"y": {"field": "upper", "type": "quantitative", "axis": {"title": ["Mitochondrial ROS", "(MitoSOX Red, MFI,", "arbitrary units)"], "values": [0,10000,20000,30000,40000,50000], "format": ",", "labelExpr": "format(datum.value, ',')"}}}},
      {"mark": {"type": "text", "dy": -7, "baseline": "alphabetic", "fontSize": 28, "color": "black"}, "encoding": {"y": {"field": "upper", "type": "quantitative", "axis": {"title": ["Mitochondrial ROS", "(MitoSOX Red, MFI,", "arbitrary units)"], "values": [0,10000,20000,30000,40000,50000], "format": ",", "labelExpr": "format(datum.value, ',')"}}, "text": {"field": "letter"}}}
     ]}
   ], "spacing": 0}
 ],
 "spacing": 103
},
{
 "title": {"text": "E", "anchor": "start", "frame": "group", "fontSize": 46, "fontWeight": "normal", "dx": -58, "dy": 18, "offset": 0, "color": "black"},
 "hconcat": [
  {"vconcat": [
    {"data": {"name": "histE"},
     "facet": {"row": {"field": "sample", "type": "nominal", "sort": ["Non-treated","LPS-treated","Sucrose","Xylitol","Trehalose"], "header": null}},
     "spacing": {"row": 0}, "bounds": "flush",
     "spec": {"width": 378, "height": 76,
      "layer": [
       {"mark": {"type": "line", "interpolate": "monotone", "color": "#1a1a1a", "strokeWidth": 2},
        "encoding": {
         "x": {"field": "mfi", "type": "quantitative", "scale": {"type": "log", "domain": [10000, 560000000], "nice": false},
          "axis": {"title": null, "values": [10000,20000,30000,40000,50000,60000,70000,80000,90000,100000,200000,300000,400000,500000,600000,700000,800000,900000,1000000,2000000,3000000,4000000,5000000,6000000,7000000,8000000,9000000,10000000,20000000,30000000,40000000,50000000,60000000,70000000,80000000,90000000,100000000,200000000,300000000,400000000,500000000],
           "labelExpr": "abs(log(datum.value)/LN10 - round(log(datum.value)/LN10)) < 0.01 ? '10' + ['⁰','¹','²','³','⁴','⁵','⁶','⁷','⁸'][round(log(datum.value)/LN10)] : ''",
           "tickSize": {"condition": {"test": "abs(log(datum.value)/LN10 - round(log(datum.value)/LN10)) < 0.01", "value": 9}, "value": 5},
           "labelFontSize": 14, "labelOffset": 6, "labelPadding": 4, "labelOverlap": false, "labelFlush": false, "labelBound": false, "tickWidth": 1.2, "domainWidth": 1.2}},
         "y": {"field": "count", "type": "quantitative", "scale": {"domain": [0, 100], "nice": false}, "axis": null}}},
       {"transform": [{"aggregate": [{"op": "count", "as": "n"}], "groupby": ["sample"]}],
        "mark": {"type": "text", "align": "left", "baseline": "top", "dx": 12, "dy": 8, "fontSize": 25, "color": "black"},
        "encoding": {"x": {"datum": 560000000, "type": "quantitative"}, "y": {"datum": 100, "type": "quantitative"}, "text": {"field": "sample"}}}
      ]}},
    {"width": 378, "height": 28, "view": {"stroke": null}, "data": {"values": [{}]},
     "layer": [
      {"mark": {"type": "rule", "strokeWidth": 2, "color": "black"},
       "encoding": {"x": {"datum": 0.12, "type": "quantitative", "scale": {"domain": [0, 1]}, "axis": null}, "x2": {"datum": 0.95}, "y": {"datum": 0.5, "type": "quantitative", "scale": {"domain": [0, 1]}, "axis": null}}},
      {"mark": {"type": "point", "shape": "triangle-right", "filled": true, "size": 380, "color": "black", "opacity": 1},
       "encoding": {"x": {"datum": 0.963, "type": "quantitative"}, "y": {"datum": 0.5, "type": "quantitative"}}},
      {"mark": {"type": "text", "text": "MFI", "align": "left", "baseline": "middle", "fontSize": 24, "color": "black"},
       "encoding": {"x": {"datum": 0, "type": "quantitative"}, "y": {"datum": 0.5, "type": "quantitative"}}}
     ]}
   ], "spacing": 10},
  {"vconcat": [
    {"width": 10, "height": 2, "data": {"values": []}, "mark": "point", "view": {"stroke": null}},
    {"width": 548, "height": 348, "data": {"name": "bars"}, "transform": [{"filter": "datum.panel == 'E'"}],
     "view": {"stroke": "black", "strokeWidth": 3},
     "encoding": {"x": {"field": "treatment", "type": "nominal", "sort": ["NT","LPS","Suc","Xyl","Tre"], "scale": {"paddingInner": 0.34, "paddingOuter": 0.32},
       "axis": {"title": null, "labelAngle": 0, "labelFontSize": 26, "labelPadding": 6, "tickSize": 13, "tickWidth": 3, "domainWidth": 3}}},
     "layer": [
      {"mark": {"type": "bar", "stroke": "black", "strokeWidth": 1.5},
       "encoding": {"y": {"field": "mean", "type": "quantitative", "scale": {"domain": [0, 2500000], "nice": false},
         "axis": {"title": ["Intracellular ROS", "(DCFDA, MFI, arbitrary units)"], "values": [0,500000,1000000,1500000,2000000,2500000], "format": ",", "labelExpr": "format(datum.value, ',')", "titlePadding": 5}},
        "fill": {"field": "treatment", "type": "nominal", "scale": {"domain": ["NT","LPS","Suc","Xyl","Tre"], "range": ["#ffffff","#000000","#606060","#a3a2a7","#d6d6d6"]}, "legend": null}}},
      {"mark": {"type": "rule", "strokeWidth": 2.5, "color": "black"}, "encoding": {"y": {"field": "mean", "type": "quantitative", "axis": {"title": ["Intracellular ROS", "(DCFDA, MFI, arbitrary units)"], "values": [0,500000,1000000,1500000,2000000,2500000], "format": ",", "labelExpr": "format(datum.value, ',')", "titlePadding": 5}}, "y2": {"field": "upper"}}},
      {"mark": {"type": "tick", "size": 32, "thickness": 2.5, "color": "black"}, "encoding": {"y": {"field": "upper", "type": "quantitative", "axis": {"title": ["Intracellular ROS", "(DCFDA, MFI, arbitrary units)"], "values": [0,500000,1000000,1500000,2000000,2500000], "format": ",", "labelExpr": "format(datum.value, ',')", "titlePadding": 5}}}},
      {"mark": {"type": "text", "dy": -7, "baseline": "alphabetic", "fontSize": 28, "color": "black"}, "encoding": {"y": {"field": "upper", "type": "quantitative", "axis": {"title": ["Intracellular ROS", "(DCFDA, MFI, arbitrary units)"], "values": [0,500000,1000000,1500000,2000000,2500000], "format": ",", "labelExpr": "format(datum.value, ',')", "titlePadding": 5}}, "text": {"field": "letter"}}}
     ]}
   ], "spacing": 0}
 ],
 "spacing": 112
}
],
"spacing": 15,
"resolve": {"scale": {"strokeDash": "independent"}}
}
